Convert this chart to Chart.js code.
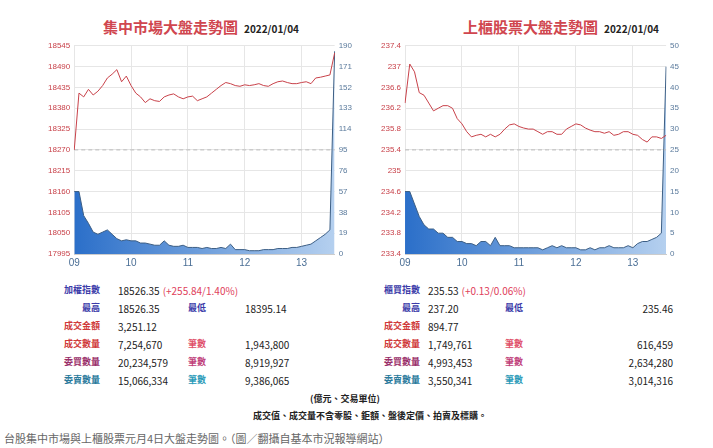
<!DOCTYPE html>
<html><head><meta charset="utf-8">
<script src="https://cdn.jsdelivr.net/npm/chart.js@4"></script>
<style>
body{margin:0;width:713px;height:448px;background:#fff;font-family:"Noto Sans CJK TC","Noto Sans",sans-serif;position:relative;overflow:hidden}
.t{position:absolute;white-space:nowrap;font-size:10px;color:#222}
.ttl{position:absolute;font-size:15px;font-weight:bold;color:#d0464f;white-space:nowrap}
.ttl span{font-size:10px;color:#222;margin-left:6px}
.cv{position:absolute}
.b{font-weight:bold;font-size:9px}
</style></head><body>
<div class="ttl" style="left:103px;top:16px">集中市場大盤走勢圖<span>2022/01/04</span></div>
<div class="ttl" style="left:463px;top:16px">上櫃股票大盤走勢圖<span>2022/01/04</span></div>
<div class="cv" style="left:44px;top:37px;width:312px;height:235px"><canvas id="c1"></canvas></div>
<div class="cv" style="left:377px;top:37px;width:306px;height:235px"><canvas id="c2"></canvas></div>
<div id="tbl"></div>
<div class="t b" style="left:310px;top:392px">(億元、交易單位)</div>
<div class="t b" style="left:253px;top:409px">成交值、成交量不含零股、鉅額、盤後定價、拍賣及標購。</div>
<div class="t" style="left:4px;top:430px;font-size:11px;color:#666">台股集中市場與上櫃股票元月4日大盤走勢圖。（圖／翻攝自基本市況報導網站）</div>
<script>
const hourLabels=['09','10','11','12','13'];
const twseLeftTicks=[17995,18050,18105,18160,18215,18270,18325,18380,18435,18490,18545];
const twsePrev=18270;
const twsePrice=[18270,18420,18410,18430,18415,18425,18440,18460,18470,18482,18450,18465,18440,18420,18410,18395,18405,18400,18398,18410,18415,18418,18410,18405,18410,18412,18400,18405,18410,18420,18430,18440,18448,18445,18440,18438,18442,18440,18442,18445,18440,18438,18445,18450,18452,18448,18445,18445,18448,18450,18445,18460,18462,18465,18468,18526];
const twseVol=[57,57,35,28,20,18,20,22,18,14,12,13,12,12,10,10,9,8,8,12,8,7,7,8,6,6,6,5,6,5,5,6,5,9,4,4,4,3,3,3,4,4,4,5,5,5,6,6,7,8,9,12,15,18,22,185];
const otcLeftTicks=[233.4,233.8,234.2,234.6,235,235.4,235.8,236.2,236.6,237,237.4];
const otcPrev=235.4;
const otcPrice=[236.3,237.05,236.9,236.5,236.45,236.3,236.15,236.2,236.25,236.25,236.2,236.0,235.9,235.75,235.65,235.68,235.7,235.65,235.7,235.65,235.7,235.8,235.88,235.9,235.85,235.82,235.8,235.8,235.75,235.7,235.75,235.75,235.7,235.7,235.8,235.85,235.9,235.88,235.82,235.78,235.75,235.75,235.72,235.75,235.68,235.7,235.75,235.75,235.7,235.68,235.6,235.55,235.65,235.65,235.62,235.68];
const otcVol=[15,15,12,9,7,6,6,5,5,4,4,3,3,2.5,2.5,2,3,3,2,4,2,2,2,1.5,1.5,1.5,1.5,1.5,1.5,1,1.5,2,1.5,2,1.5,1.5,1.5,1,1,1.5,1,1.5,1.5,2,1.5,1.5,1.5,2,1.5,2.5,3,3,3.5,4,5,45];

function times(n){const a=[];for(let i=0;i<n;i++)a.push(i);return a;}
function make(id,price,vol,lt,prev,rmax,rstep){
  const n=price.length;
  new Chart(document.getElementById(id),{
    data:{labels:times(n),datasets:[
      {type:'line',data:price,yAxisID:'y',borderColor:'#c8424a',borderWidth:1,pointRadius:0,tension:0},
      {type:'line',data:price.map(()=>prev),yAxisID:'y',borderColor:'#bbb',borderWidth:1,borderDash:[4,3],pointRadius:0},
      {type:'line',data:vol,yAxisID:'y2',borderColor:'#3d5f85',borderWidth:1,pointRadius:0,fill:'origin',
       backgroundColor:(ctx)=>{const c=ctx.chart.chartArea;if(!c)return '#3a7bd5';const g=ctx.chart.ctx.createLinearGradient(c.left,0,c.right,0);g.addColorStop(0,'#2b6fc9');g.addColorStop(1,'#b5d0ef');return g;}}
    ]},
    options:{responsive:true,maintainAspectRatio:false,animation:false,
      layout:{padding:{top:4}},
      plugins:{legend:{display:false},tooltip:{enabled:false}},
      scales:{
        x:{type:'category',offset:false,grid:{color:'#e6e6e6',drawTicks:false},border:{color:'#ccc'},
          ticks:{autoSkip:false,maxRotation:0,color:'#4a6e95',font:{size:10},padding:3,
            callback:(v,i)=> (i%12===0 && i/12<hourLabels.length)?hourLabels[i/12]:null}},
        y:{position:'left',min:lt[0],max:lt[lt.length-1],afterBuildTicks:a=>{a.ticks=lt.map(v=>({value:v}));},
          grid:{color:'#e6e6e6',drawTicks:false},border:{display:false},ticks:{color:'#c8424a',font:{size:8},padding:4,callback:v=>String(+v.toFixed(1))}},
        y2:{position:'right',min:0,max:rmax,ticks:{stepSize:rstep,color:'#5a7a9c',font:{size:8},padding:4},
          grid:{display:false,drawTicks:false},border:{display:false}}
      }}
  });
}
make('c1',twsePrice,twseVol,twseLeftTicks,twsePrev,190,19);
make('c2',otcPrice,otcVol,otcLeftTicks,otcPrev,50,5);

const L=[['加權指數','#3a3aa8','18526.35','','',''],['最高','#3a3aa8','18526.35','最低','#3a3aa8','18395.14'],['成交金額','#d03a3a','3,251.12','','',''],['成交數量','#d03a3a','7,254,670','筆數','#e0506a','1,943,800'],['委買數量','#9a2f6a','20,234,579','筆數','#c0407a','8,919,927'],['委賣數量','#2a7a9c','15,066,334','筆數','#2a9ab8','9,386,065']];
const R=[['櫃買指數','#3a3aa8','235.53','','',''],['最高','#3a3aa8','237.20','最低','#3a3aa8','235.46'],['成交金額','#d03a3a','894.77','','',''],['成交數量','#d03a3a','1,749,761','筆數','#e0506a','616,459'],['委買數量','#9a2f6a','4,993,453','筆數','#c0407a','2,634,280'],['委賣數量','#2a7a9c','3,550,341','筆數','#2a9ab8','3,014,316']];
let h='';
function rows(D,lblR,v1L,l2L,v2,v2right,chg){
  D.forEach((r,i)=>{const y=283+i*18;
    h+=`<div class="t b" style="right:${713-lblR}px;top:${y}px;color:${r[1]}">${r[0]}</div>`;
    h+=`<div class="t" style="left:${v1L}px;top:${y}px">${r[2]}${i===0?`<span style="color:#e0405a;margin-left:3px">${chg}</span>`:''}</div>`;
    if(r[3]){h+=`<div class="t b" style="left:${l2L}px;top:${y}px;color:${r[4]}">${r[3]}</div>`;
      h+= v2right?`<div class="t" style="right:${713-v2}px;top:${y}px">${r[5]}</div>`:`<div class="t" style="left:${v2}px;top:${y}px">${r[5]}</div>`;}
  });
}
rows(L,100,118,188,245,false,'(+255.84/1.40%)');
rows(R,420,428,505,673,true,'(+0.13/0.06%)');
document.getElementById('tbl').innerHTML=h;
</script></body></html>
